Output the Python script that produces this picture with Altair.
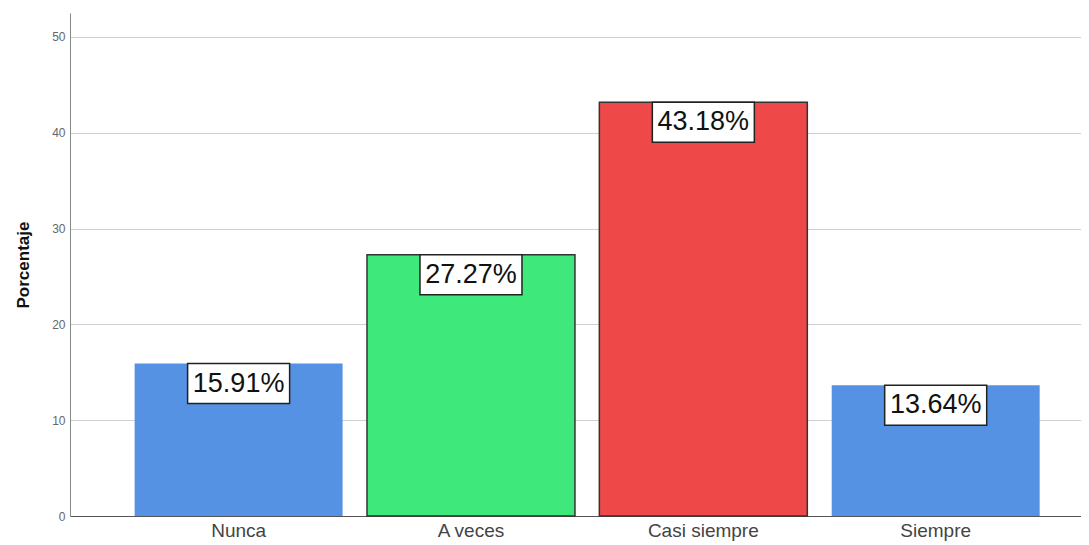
import altair as alt
import pandas as pd

categories = ["Nunca", "A veces", "Casi siempre", "Siempre"]
values = [15.91, 27.27, 43.18, 13.64]
colors = ["#5592E3", "#3EE87B", "#EE4849", "#5592E3"]
outlined = [False, True, True, False]

df = pd.DataFrame({
    "cat": categories,
    "val": values,
    "color": colors,
    "outlined": outlined,
    "label": [f"{v:.2f}%" for v in values],
})

x = alt.X("cat:N", sort=categories, title=None,
          scale=alt.Scale(paddingInner=0.105, paddingOuter=0.228, align=0.61),
          axis=alt.Axis(labelAngle=0, labelFontSize=19, labelColor="#444444",
                        labelFont="Liberation Sans", ticks=False, labelPadding=5,
                        domainColor="#555555", domainWidth=1.2, grid=False))
y = alt.Y("val:Q", title="Porcentaje",
          scale=alt.Scale(domain=[0, 52.5], nice=False),
          axis=alt.Axis(values=[0, 10, 20, 30, 40, 50], labelFontSize=12,
                        labelColor="#666666", labelFont="Liberation Sans",
                        ticks=False, labelPadding=5, domainColor="#888888",
                        gridColor="#d0d0d0", titleFontSize=17, titleFont="Liberation Sans",
                        titleFontWeight="bold", titleColor="#111111", titlePadding=19))

bars = alt.Chart(df).mark_bar(strokeWidth=1.5).encode(
    x=x, y=y,
    color=alt.Color("color:N", scale=None),
    stroke=alt.condition("datum.outlined", alt.value("#333333"), alt.value(None)),
)

boxes = alt.Chart(df).mark_point(
    shape="M-1,-0.392L1,-0.392L1,0.392L-1,0.392Z", size=10404, filled=True,
    fill="white", stroke="#222222", strokeWidth=1.5, opacity=1, yOffset=20,
).encode(x=alt.X("cat:N", sort=categories), y="val:Q")

texts = alt.Chart(df).mark_text(
    fontSize=27, font="Liberation Sans", color="#111111", yOffset=20, baseline="middle",
).encode(x=alt.X("cat:N", sort=categories), y="val:Q", text="label:N")

chart = (bars + boxes + texts).properties(
    width=1011, height=503,
    autosize=alt.AutoSizeParams(type="none"),
    padding={"left": 62, "top": 5, "right": 0, "bottom": 29},
).configure_view(stroke=None)

chart.save("out.html", embed_options={"renderer": "svg", "actions": False})
